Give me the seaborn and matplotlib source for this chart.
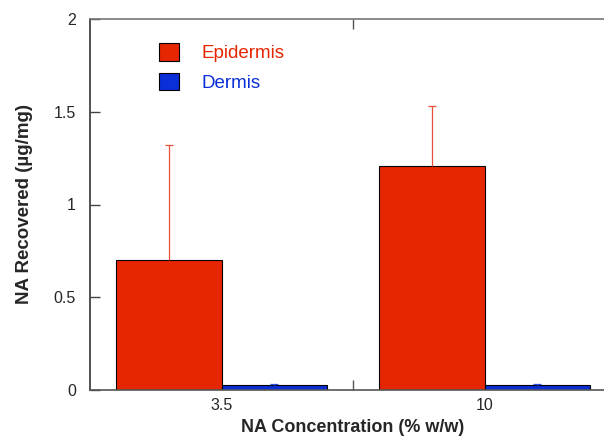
import seaborn as sns
import matplotlib.pyplot as plt
import matplotlib.patches as mpatches
import pandas as pd

# dados
concentracoes = ['3.5', '10']
tecidos = ['Epidermis', 'Dermis']
epidermis = [0.70, 1.21]
dermis = [0.025, 0.025]
erro_epidermis = [0.62, 0.32]
erro_dermis = [0.01, 0.01]

cores = {'Epidermis': '#E62600', 'Dermis': '#0A2ED8'}
cores_erro = {'Epidermis': '#E8503A', 'Dermis': '#3050E0'}

df = pd.DataFrame({
    'Conc': concentracoes * 2,
    'Tecido': ['Epidermis'] * 2 + ['Dermis'] * 2,
    'Valor': epidermis + dermis,
})
erros = {'Epidermis': erro_epidermis, 'Dermis': erro_dermis}

sns.set_style('ticks')
plt.rcParams['font.family'] = ['Liberation Sans', 'DejaVu Sans']

fig = plt.figure(figsize=(6.04, 4.38), dpi=100)
ax = fig.add_axes([90 / 604, 48 / 438, 526 / 604, 371 / 438])

sns.barplot(data=df, x='Conc', y='Valor', hue='Tecido', order=concentracoes,
            hue_order=tecidos, palette=cores, saturation=1, width=0.8,
            errorbar=None, edgecolor='black', linewidth=0.8, legend=False, ax=ax)

# barras de erro só para cima (haste + tampa)
for cont, tecido in zip(ax.containers, tecidos):
    for p, e in zip(cont, erros[tecido]):
        xc = p.get_x() + p.get_width() / 2
        h = p.get_height()
        ax.vlines(xc, h, h + e, color=cores_erro[tecido], linewidth=0.9, zorder=3)
        ax.hlines(h + e, xc - 0.014, xc + 0.014, color=cores_erro[tecido],
                  linewidth=0.9, zorder=3)

ax.set_xlim(-0.5, 1.5)
ax.set_ylim(0, 2)
ax.set_yticks([0, 0.5, 1, 1.5, 2])
ax.set_yticklabels(['0', '0.5', '1', '1.5', '2'])
ax.set_xticks([0.5], minor=True)
ax.tick_params(axis='x', which='major', length=0, labelsize=11.5, pad=6)
ax.tick_params(axis='x', which='minor', length=7, direction='in', top=True,
               color='#555555', width=1)
ax.tick_params(axis='y', length=7, direction='in', labelsize=11.5, width=1,
               color='#444444', pad=10)

ax.spines['top'].set_color('#777777')
ax.spines['bottom'].set_color('#555555')
ax.spines['left'].set_color('#333333')
ax.spines['right'].set_visible(False)
for s in ax.spines.values():
    s.set_linewidth(1.2)

ax.set_xlabel('NA Concentration (% w/w)', fontsize=13, fontweight='bold', labelpad=4)
ax.set_ylabel('NA Recovered (µg/mg)', fontsize=13.5, fontweight='bold', labelpad=15)

handles = [mpatches.Patch(facecolor=cores[t], edgecolor='black', linewidth=0.8, label=t)
           for t in tecidos]
leg = ax.legend(handles=handles, loc='upper left', bbox_to_anchor=(0.099, 0.98),
                frameon=False, fontsize=13.5, handlelength=1.05, handleheight=1.05,
                handletextpad=1.2, labelspacing=0.55)
for txt, t in zip(leg.get_texts(), tecidos):
    txt.set_color(cores[t])

fig.savefig('out.png', dpi=100)
